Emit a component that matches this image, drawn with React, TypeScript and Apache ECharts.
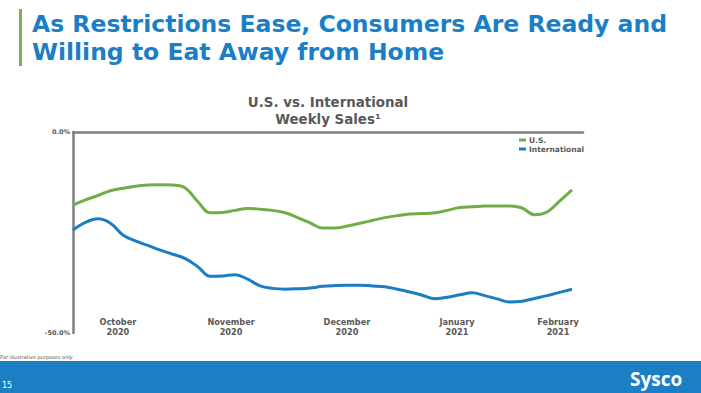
import React, { useEffect, useRef } from "react";
import * as echarts from "echarts";

const usValues = [
  -18.2, -16.9, -15.8, -14.6, -14.0, -13.5, -13.2, -13.1, -13.2, -13.9,
  -17.3, -20.1, -20.0, -19.5, -19.0, -19.2, -19.5, -20.1, -21.3, -22.6,
  -23.9, -23.9, -23.4, -22.7, -22.0, -21.3, -20.8, -20.4, -20.3, -20.1,
  -19.5, -18.8, -18.6, -18.4, -18.4, -18.4, -18.9, -20.6, -19.9, -17.2,
  -14.4,
];
const intlValues = [
  -24.4, -22.5, -21.6, -22.7, -25.6, -27.1, -28.2, -29.4, -30.4, -31.5,
  -33.5, -35.9, -35.8, -35.5, -36.6, -38.3, -38.9, -39.1, -39.0, -38.8,
  -38.4, -38.2, -38.1, -38.1, -38.3, -38.5, -39.1, -39.8, -40.6, -41.5,
  -41.1, -40.5, -40.0, -40.7, -41.5, -42.3, -42.1, -41.4, -40.7, -39.9,
  -39.1,
];
const monthLabels = ["October\n2020", "November\n2020", "December\n2020", "January\n2021", "February\n2021"];
const monthPositions = [3.6, 12.67, 21.96, 30.78, 38.88];
const xMax = 40.88;
const yTicks = [-50, 0];

const GRAY = "#595959";
const AXIS = "#7f7f7f";
const GREEN = "#70ad47";
const BLUE = "#1b7dc2";

export default function App() {
  const ref = useRef<HTMLDivElement>(null);
  useEffect(() => {
    document.body.style.margin = "0";
    const chart = echarts.init(ref.current!, null, { renderer: "svg" });
    chart.setOption({
      animation: false,
      backgroundColor: "#ffffff",
      title: {
        text: "U.S. vs. International\nWeekly Sales¹",
        left: 323,
        top: 89,
        textAlign: "center",
        textStyle: {
          fontFamily: "DejaVu Sans",
          fontSize: 13.4,
          fontWeight: "bold",
          color: GRAY,
          lineHeight: 17,
        },
      },
      legend: {
        orient: "vertical",
        left: 514,
        top: 131,
        itemWidth: 7,
        itemHeight: 3,
        itemGap: 1,
        icon: "rect",
        textStyle: { fontFamily: "DejaVu Sans", fontSize: 7.5, fontWeight: "bold", color: GRAY, padding: [0, 0, 0, -2] },
        data: ["U.S.", "International"],
      },
      grid: { left: 73, top: 132, right: 118, bottom: 60 },
      xAxis: [
        {
          type: "value",
          position: "top",
          min: 0,
          max: xMax,
          axisLine: { show: true, lineStyle: { color: AXIS, width: 2.5 } },
          axisTick: { show: false },
          axisLabel: { show: false },
          splitLine: { show: false },
        },
        {
          type: "value",
          position: "bottom",
          min: 0,
          max: xMax,
          axisLine: { show: false },
          axisTick: { show: false },
          splitLine: { show: false },
          axisLabel: {
            customValues: monthPositions,
            margin: -16,
            fontFamily: "DejaVu Sans",
            fontSize: 8.2,
            fontWeight: "bold",
            color: GRAY,
            lineHeight: 10,
            formatter: (v: number) => {
              const k = monthPositions.indexOf(v);
              return k >= 0 ? monthLabels[k] : "";
            },
          },
        },
      ],
      yAxis: {
        type: "value",
        min: -50,
        max: 0,
        interval: 50,
        axisLine: { show: true, lineStyle: { color: AXIS, width: 2.5 } },
        axisTick: { show: false },
        splitLine: { show: false },
        axisLabel: {
          customValues: yTicks,
          margin: 3,
          fontFamily: "DejaVu Sans",
          fontSize: 6.5,
          fontWeight: "bold",
          color: GRAY,
          formatter: (v: number) => v.toFixed(1) + "%",
        },
      },
      series: [
        {
          name: "U.S.",
          type: "line",
          xAxisIndex: 0,
          data: usValues.map((v, i) => [i, v]),
          smooth: 0.4,
          showSymbol: false,
          lineStyle: { color: GREEN, width: 3 },
          itemStyle: { color: GREEN },
        },
        {
          name: "International",
          type: "line",
          xAxisIndex: 0,
          data: intlValues.map((v, i) => [i, v]),
          smooth: 0.4,
          showSymbol: false,
          lineStyle: { color: BLUE, width: 3 },
          itemStyle: { color: BLUE },
        },
      ],
      graphic: [
        { type: "rect", shape: { x: 19, y: 9, width: 3, height: 57 }, style: { fill: "#77b255" } },
        {
          type: "text",
          x: 32,
          y: 10,
          style: {
            text: "As Restrictions Ease, Consumers Are Ready and\nWilling to Eat Away from Home",
            fontFamily: "DejaVu Sans",
            fontSize: 23.5,
            fontWeight: "bold",
            fill: "#1a7fc6",
            lineHeight: 28,
          },
        },
        {
          type: "text",
          x: 0,
          y: 354,
          style: { text: "For illustrative purposes only", fontFamily: "DejaVu Sans", fontSize: 5, fontStyle: "italic", fill: "#555555" },
        },
        { type: "rect", shape: { x: 0, y: 361, width: 701, height: 32 }, style: { fill: "#1d7fc3" } },
        {
          type: "text",
          x: 2,
          y: 381,
          style: { text: "15", fontFamily: "DejaVu Sans", fontSize: 8, fill: "#ffffff" },
        },
        {
          type: "text",
          x: 630,
          y: 369,
          style: { text: "Sysco", fontFamily: "Open Sans", fontSize: 19, fontWeight: "bold", fill: "#ffffff" },
        },
      ],
    });
    return () => chart.dispose();
  }, []);
  return <div ref={ref} style={{ width: 701, height: 393 }} />;
}
